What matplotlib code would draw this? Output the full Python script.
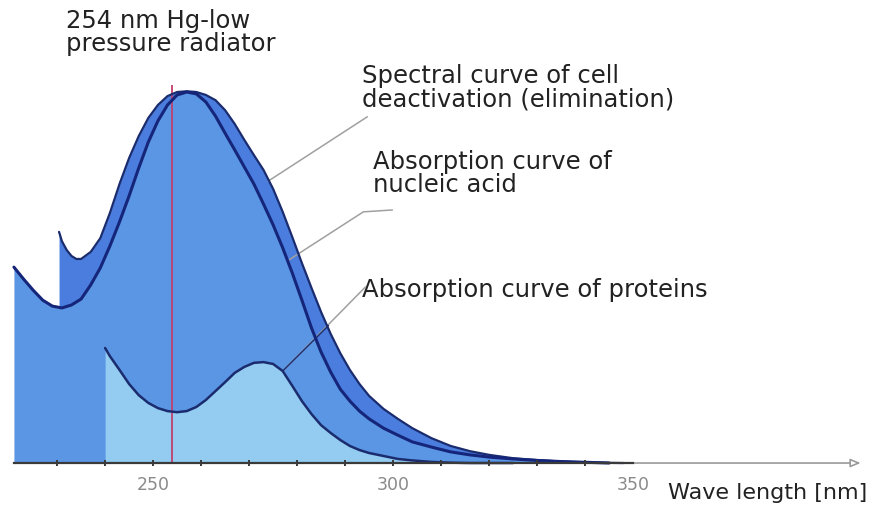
import numpy as np
import matplotlib.pyplot as plt

# wavelength [nm] and relative value [%]
nucleic_nm = [221, 223, 225, 227, 229, 231, 233, 235, 237, 239, 241, 243, 245, 247, 249,
              251, 253, 255, 257, 259, 261, 263, 265, 267, 269, 271, 273, 275, 277, 279,
              281, 283, 285, 287, 289, 291, 293, 295, 298, 301, 304, 308, 312, 316, 320,
              325, 330, 335, 340, 345]
nucleic_val = [52.8, 49.6, 46.6, 43.9, 42.3, 41.8, 42.6, 44.2, 48.0, 52.6, 58.5, 65.0, 72.0,
               79.5, 86.5, 92.2, 96.5, 99.2, 100.0, 99.5, 97.3, 93.5, 88.9, 84.4, 79.8, 75.2,
               69.8, 64.2, 58.0, 51.2, 43.9, 36.4, 29.9, 24.5, 19.9, 16.7, 14.0, 11.9, 9.4,
               7.5, 5.7, 4.3, 3.0, 2.2, 1.6, 1.1, 0.7, 0.4, 0.2, 0.0]

cell_nm = [230.4, 231, 232, 233, 234, 235, 237, 239, 241, 243, 245, 247, 249, 251, 253,
           255, 257, 259, 261, 263, 265, 267, 269, 271, 273, 275, 277, 279, 281, 283, 285,
           287, 289, 291, 293, 295, 298, 301, 304, 308, 312, 316, 320, 325, 330, 335, 340,
           345, 348]
cell_val = [62.3, 59.8, 57.4, 55.8, 55.0, 55.0, 56.9, 60.6, 67.4, 75.2, 82.2, 88.1, 93.0,
            96.5, 98.9, 100.0, 100.2, 100.0, 99.2, 97.8, 95.1, 91.4, 87.1, 83.0, 79.0, 73.9,
            67.7, 60.9, 53.9, 47.2, 40.7, 34.8, 29.6, 25.1, 21.3, 18.1, 14.6, 11.9, 9.4, 6.7,
            4.6, 3.2, 2.2, 1.3, 0.8, 0.4, 0.2, 0.05, 0.0]

protein_nm = [240, 241, 243, 245, 247, 249, 251, 253, 255, 257, 259, 261, 263, 265, 267,
              269, 271, 273, 275, 277, 279, 281, 283, 285, 287, 289, 291, 293, 295, 298,
              301, 304, 308, 312, 316, 320, 325]
protein_val = [31.0, 28.8, 25.1, 21.3, 18.3, 16.2, 14.8, 14.0, 13.7, 14.0, 15.1, 17.0, 19.4,
               21.8, 24.3, 25.9, 27.0, 27.2, 26.7, 24.8, 20.8, 16.7, 13.2, 10.2, 8.1, 6.2,
               4.6, 3.5, 2.7, 1.9, 1.1, 0.7, 0.3, 0.1, 0.0, 0.0, 0.0]

hg_line_nm = 254
tick_nm = [230, 240, 250, 260, 270, 280, 290, 300, 310, 320, 330, 340]
label_nm = [250, 300, 350]

# colours
dark_blue = '#4a7ddd'
mid_blue = '#5b96e4'
light_blue = '#93cbf1'
navy = '#1b2c6e'
leader = '#a0a0a0'

fig = plt.figure(figsize=(8.74, 5.12), dpi=100)
ax = fig.add_axes([0, 0, 1, 1])
ax.set_xlim(218.1, 400.2)
ax.set_ylim(-13.2, 124.8)
ax.axis('off')

# filled areas, back to front
ax.fill_between(cell_nm, cell_val, 0, color=dark_blue, lw=0, zorder=1)
ax.fill_between(nucleic_nm, nucleic_val, 0, color=mid_blue, lw=0, zorder=2)
ax.fill_between(protein_nm, protein_val, 0, color=light_blue, lw=0, zorder=3)

# 254 nm line
ax.vlines(hg_line_nm, 0, 102, color='#c0406e', lw=1.3, zorder=4)

# outlines
ax.plot(cell_nm, cell_val, color=navy, lw=1.6, zorder=6, solid_capstyle='round')
ax.plot(nucleic_nm, nucleic_val, color='#15257a', lw=2.2, zorder=6, solid_capstyle='round')
ax.plot(protein_nm, protein_val, color=navy, lw=1.8, zorder=6, solid_capstyle='round')

# leader lines
ax.plot([274.0, 294.6], [76.0, 93.3], color=leader, lw=1.1, zorder=5)
ax.plot([278.0, 293.8, 299.8], [54.5, 67.7, 68.2], color=leader, lw=1.1, zorder=5)
ax.plot([277.0, 294.2], [24.8, 47.4], color=leader, lw=1.1, zorder=5)
ax.plot([277.0, 286.5], [24.8, 37.0], color=navy, lw=1.0, zorder=5)

# x axis with open arrow
ax.annotate('', xy=(398, 0), xytext=(340, 0),
            arrowprops=dict(arrowstyle='-|>,head_length=0.6,head_width=0.25',
                            color='#9a9a9a', fc='white', lw=1.2), zorder=5)
ax.plot([221, 350], [0, 0], color='#3a3a3a', lw=1.6, zorder=7)
ax.plot(tick_nm, [0] * len(tick_nm), ls='none', marker='|', ms=5, mew=1.4,
        color='#3a3a3a', zorder=7)
for v in label_nm:
    ax.text(v, -5.8, str(v), ha='center', va='center', fontsize=12.5, color='#8a8a8a')

# labels
fs = 17.5
ax.text(231.9, 122.5, '254 nm Hg-low\npressure radiator', ha='left', va='top',
        fontsize=fs, color='#222222', linespacing=0.95)
ax.text(293.5, 107.5, 'Spectral curve of cell\ndeactivation (elimination)', ha='left',
        va='top', fontsize=fs, color='#222222', linespacing=0.95)
ax.text(295.8, 84.5, 'Absorption curve of\nnucleic acid', ha='left', va='top',
        fontsize=fs, color='#222222', linespacing=0.95)
ax.text(293.5, 50.0, 'Absorption curve of proteins', ha='left', va='top',
        fontsize=fs, color='#222222')
ax.text(357.3, -8.0, 'Wave length [nm]', ha='left', va='center', fontsize=16,
        color='#222222')

fig.savefig('out.png', dpi=100)
